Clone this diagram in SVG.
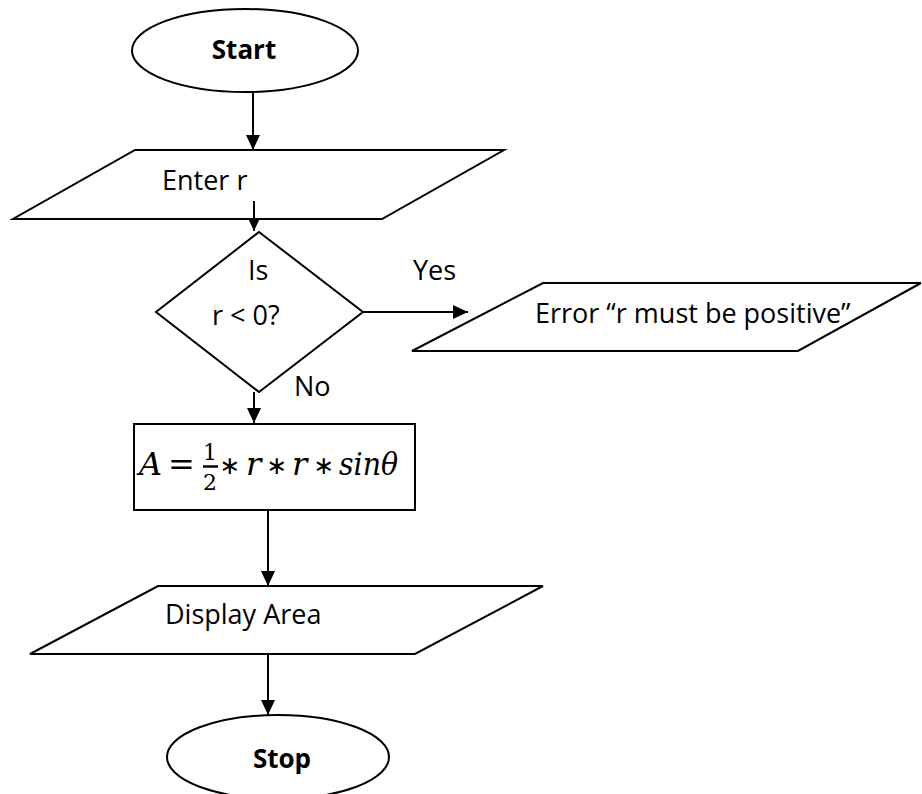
<svg xmlns="http://www.w3.org/2000/svg" width="922" height="794" viewBox="0 0 922 794">
<style>
.s{fill:#fff;stroke:#000;stroke-width:2}
.c{fill:none;stroke:#000;stroke-width:2}
.t{font-family:"Open Sans","Liberation Sans",sans-serif;font-size:27px;fill:#000}
.b{font-family:"Open Sans","Liberation Sans",sans-serif;font-size:26px;font-weight:bold;fill:#000}
.m{font-family:"DejaVu Serif","Liberation Serif",serif;font-size:32px;fill:#000}
.i{font-style:italic}
.f{font-family:"DejaVu Serif","Liberation Serif",serif;font-size:22px;fill:#000}
.a{font-family:"DejaVu Sans","Liberation Sans",sans-serif;font-size:25px;fill:#000}
</style>
<defs>
<marker id="ah" markerUnits="userSpaceOnUse" markerWidth="15" markerHeight="14" refX="15" refY="7" orient="auto">
<path d="M0,0 L15,7 L0,14 z" fill="#000"/>
</marker>
</defs>
<g id="connectors">
<line class="c" x1="253" y1="92" x2="253" y2="150" marker-end="url(#ah)"/>
<line class="c" x1="254" y1="201" x2="254" y2="231" marker-end="url(#ah)"/>
<line class="c" x1="363" y1="312" x2="468" y2="312" marker-end="url(#ah)"/>
<line class="c" x1="254" y1="392" x2="254" y2="423" marker-end="url(#ah)"/>
<line class="c" x1="268" y1="510" x2="268" y2="586" marker-end="url(#ah)"/>
<line class="c" x1="268" y1="654" x2="268" y2="715" marker-end="url(#ah)"/>
</g>
<g id="start">
<ellipse class="s" cx="245" cy="50.5" rx="113" ry="41.5"/>
<text class="b" x="244" y="59" text-anchor="middle">Start</text>
</g>
<g id="enter">
<polygon class="s" points="135,150 504,150 382,219 13,219"/>
<text class="t" x="162" y="190">Enter r</text>
</g>
<line class="c" x1="254" y1="201" x2="254" y2="225"/>
<g id="decision">
<polygon class="s" points="259,232 363,312 259,392 156,312"/>
<text class="t" x="248" y="280">Is</text>
<text class="t" x="212" y="325">r &lt; 0?</text>
</g>
<g id="labels">
<text class="t" x="413" y="280">Yes</text>
<text class="t" x="294" y="396">No</text>
</g>
<g id="error">
<polygon class="s" points="543,283 921,283 798,351 412,351"/>
<text class="t" x="535" y="323">Error “r must be positive”</text>
</g>
<g id="formula">
<rect class="s" x="134" y="424" width="281" height="86"/>
<text class="m i" x="139" y="475">A</text>
<text class="m" x="168" y="475">=</text>
<text class="f" x="210" y="460" text-anchor="middle">1</text>
<line x1="203" y1="466.5" x2="218" y2="466.5" stroke="#000" stroke-width="2.5"/>
<text class="f" x="210" y="490" text-anchor="middle">2</text>
<text class="a" x="230" y="474" text-anchor="middle">∗</text>
<text class="m i" x="246" y="475">r</text>
<text class="a" x="277" y="474" text-anchor="middle">∗</text>
<text class="m i" x="292" y="475">r</text>
<text class="a" x="324" y="474" text-anchor="middle">∗</text>
<text class="m i" x="339" y="475" textLength="59" lengthAdjust="spacingAndGlyphs">sinθ</text>
</g>
<g id="display">
<polygon class="s" points="158,586 543,586 415,654 30,654"/>
<text class="t" x="165" y="624">Display Area</text>
</g>
<g id="stop">
<ellipse class="s" cx="278" cy="757" rx="111" ry="42"/>
<text class="b" x="282" y="768" text-anchor="middle">Stop</text>
</g>
</svg>
